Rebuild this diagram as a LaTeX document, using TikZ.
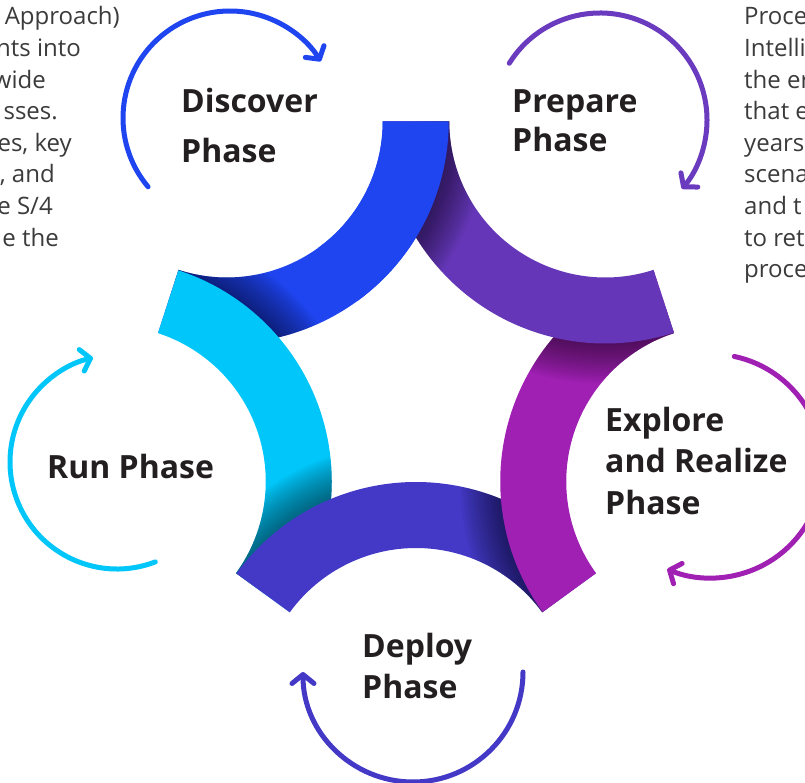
\documentclass[tikz,border=0pt]{standalone}
\usepackage{fontspec}
\setmainfont{Open Sans}
\usetikzlibrary{arrows.meta,calc}
\definecolor{cBlue}{HTML}{1F45F0}
\definecolor{cPurp}{HTML}{6536B8}
\definecolor{cPurpA}{HTML}{6A3BBF}
\definecolor{cMag}{HTML}{A020B4}
\definecolor{cInd}{HTML}{4339C6}
\definecolor{cCyan}{HTML}{00C6FA}
\definecolor{txt}{HTML}{231F20}
\definecolor{ptxt}{HTML}{3B3B3B}
\def\rIn{156}
\def\rOut{222}
\newcommand\ringfill[4]{%
  \fill[#1,shift={(#2)}] (#3:\rOut) arc[start angle=#3,end angle=#4,radius=\rOut]
    -- (#4:\rIn) arc[start angle=#4,end angle=#3,radius=\rIn] -- cycle;}
\newcommand\ringshadow[4]{%
  \begin{scope}
    \clip[shift={(#1)}] (#2:\rOut) arc[start angle=#2,end angle=#3,radius=\rOut]
      -- (#3:\rIn) arc[start angle=#3,end angle=#2,radius=\rIn] -- cycle;
    \foreach \k in {1,...,16}{\draw[black,opacity=0.037,line width=\k*5pt] (#4) circle[radius=\rOut];}
  \end{scope}}
\begin{document}
\begin{tikzpicture}[x=1pt,y=1pt,
  lab/.style={font=\fontsize{32}{38}\selectfont\bfseries, text=txt, inner sep=0pt, anchor=base west},
  parL/.style={font=\fontsize{24}{30}\selectfont, text=ptxt, inner sep=0pt, anchor=base east},
  parR/.style={font=\fontsize{24}{30}\selectfont, text=ptxt, inner sep=0pt, anchor=base west},
  arr/.style={line width=5pt, line cap=round, -{Straight Barb[round,length=9pt,width=22pt]}}]
\useasboundingbox (0,0) rectangle (805,782);
\clip (0,0) rectangle (805,782);
\fill[white] (0,0) rectangle (805,782);
% centres of the five arcs (regular pentagon)
\coordinate (ctr) at (416,400);
\coordinate (cDisc) at ($(ctr)+(126:322)$);
\coordinate (cPrep) at ($(ctr)+(54:322)$);
\coordinate (cExpl) at ($(ctr)+(-18:322)$);
\coordinate (cDepl) at ($(ctr)+(270:322)$);
\coordinate (cRun)  at ($(ctr)+(198:322)$);
% interlocking arcs
\ringfill{cBlue}{cDisc}{0}{-108}
\ringshadow{cDisc}{-50}{-108}{cRun}
\ringfill{cCyan}{cRun}{72}{-36}
\ringshadow{cRun}{22}{-36}{cDepl}
\ringfill{cInd}{cDepl}{144}{36}
\ringshadow{cDepl}{94}{36}{cExpl}
\ringfill{cMag}{cExpl}{216}{108}
\ringshadow{cExpl}{166}{108}{cPrep}
\ringfill{cPurp}{cPrep}{-72}{-180}
\ringshadow{cPrep}{-122}{-180}{cDisc}
\ringfill{cBlue}{cDisc}{0}{-54}
% circular arrows
\coordinate (aDisc) at (230,664);
\coordinate (aPrep) at (600,662);
\coordinate (aExpl) at (711,316);
\coordinate (aDepl) at (413,110);
\coordinate (aRun)  at (117,320);
\draw[arr,cBlue]  ($(aDisc)+(220:107)$) arc[start angle=220,end angle=32,radius=107];
\draw[arr,cPurpA] ($(aPrep)+(148:107)$) arc[start angle=148,end angle=-40,radius=107];
\draw[arr,cMag]   ($(aExpl)+(78:112)$) arc[start angle=78,end angle=-113,radius=112];
\draw[arr,cInd]   ($(aDepl)+(0:110)$) arc[start angle=0,end angle=-180,radius=110];
\draw[arr,cCyan]  ($(aRun)+(-69:107)$) arc[start angle=-69,end angle=-257,radius=107];
% phase labels
\node[lab] (disc1) at (181,669) {Discover};
\node[lab] (disc2) at (181,619) {Phase};
\node[lab] (prep1) at (512,669) {Prepare};
\node[lab] (prep2) at (512,630) {Phase};
\node[lab] (expl1) at (605,350) {Explore};
\node[lab] (expl2) at (605,309) {and Realize};
\node[lab] (expl3) at (605,267) {Phase};
\node[lab] (depl1) at (362,125) {Deploy};
\node[lab] (depl2) at (362,84) {Phase};
\node[lab] (run1) at (47,303) {Run Phase};
% cut-off paragraph, left
\node[parL] (l1) at (120,757) {Approach)};
\node[parL] (l2) at (81,725.4) {nts into};
\node[parL] (l3) at (46,693.8) {wide};
\node[parL] (l4) at (58,662.2) {sses.};
\node[parL] (l5) at (72,630.6) {es, key};
\node[parL] (l6) at (55,599) {, and};
\node[parL] (l7) at (53,567.4) {e S/4};
\node[parL] (l8) at (59,535.8) {e the};
% cut-off paragraph, right
\node[parR] (r1) at (744,757) {Proce};
\node[parR] (r2) at (744,725.4) {Intelli};
\node[parR] (r3) at (744,693.8) {the er};
\node[parR] (r4) at (744,662.2) {that e};
\node[parR] (r5) at (744,630.6) {years};
\node[parR] (r6) at (744,599) {scena};
\node[parR] (r7) at (744,567.4) {and t};
\node[parR] (r8) at (744,535.8) {to ret};
\node[parR] (r9) at (744,504.2) {proce};
\end{tikzpicture}
\end{document}
